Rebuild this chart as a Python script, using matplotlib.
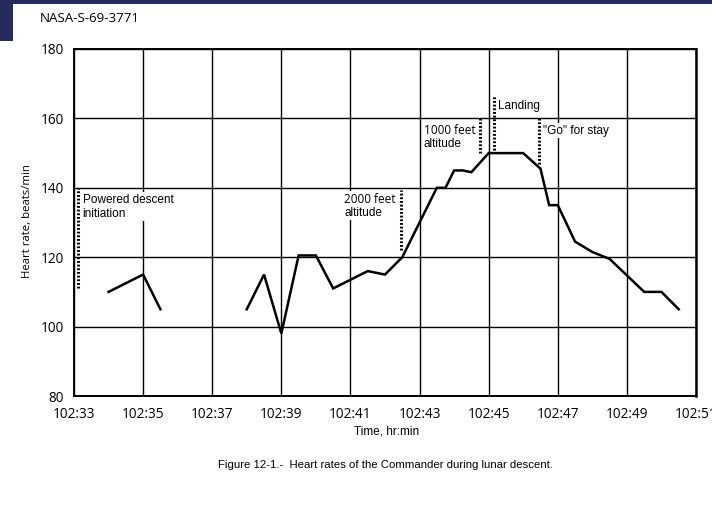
import numpy as np
import matplotlib
matplotlib.use("Agg")
import matplotlib.pyplot as plt
from matplotlib.patches import Rectangle

# ---- data (minutes past 102 h) ----
seg1_min = [34, 35, 35.5]
seg1_hr = [110, 115, 105]

seg2_min = [38, 38.5, 39, 39.5, 40, 40.5, 41.5, 42, 42.5, 43.5, 43.75, 44, 44.25,
            44.5, 45, 46, 46.5, 46.75, 47, 47.5, 48, 48.5, 49.5, 50, 50.5]
seg2_hr = [105, 115, 98, 120.5, 120.5, 111, 116, 115, 120, 140, 140, 145, 145,
           144.5, 150, 150, 145.5, 135, 135, 124.5, 121.5, 119.5, 110, 110, 105]

event_labels = ["Powered descent\ninitiation", "2000 feet", "1000 feet", "Landing", '"Go" for stay']
event_min = [33.12, 42.45, 44.76, 45.14, 46.47]
event_lo = [111, 122, 150, 151, 147]
event_hi = [140, 139.5, 160, 166.5, 160]

x_ticks = [33, 35, 37, 39, 41, 43, 45, 47, 49, 51]
x_ticklabels = ["102:%02d" % m for m in x_ticks]
y_ticks = [80, 100, 120, 140, 160, 180]

# ---- figure ----
W, H = 712, 507
fig = plt.figure(figsize=(W / 100, H / 100), dpi=100)
fig.patch.set_facecolor("white")

navy = "#262b5e"
fig.patches.append(Rectangle((0, 1 - 4 / H), 1, 4 / H, transform=fig.transFigure,
                             facecolor=navy, edgecolor="none", zorder=0))
fig.patches.append(Rectangle((0, 1 - 41 / H), 13 / W, 41 / H, transform=fig.transFigure,
                             facecolor=navy, edgecolor="none", zorder=0))

ax = fig.add_axes([74 / W, 1 - 396 / H, (696 - 74) / W, (396 - 49) / H])
ax.set_xlim(33, 51)
ax.set_ylim(80, 180)
ax.set_xticks(x_ticks)
ax.set_xticklabels(x_ticklabels)
ax.set_yticks(y_ticks)
ax.grid(True, color="black", linewidth=1.0)
ax.set_axisbelow(True)
ax.tick_params(length=0, labelsize=9.8, pad=7)
ax.tick_params(axis="x", pad=8)
for lab in ax.get_xticklabels() + ax.get_yticklabels():
    lab.set_fontfamily("Open Sans")
for s in ax.spines.values():
    s.set_linewidth(1.4)
ax.spines["right"].set_linewidth(1.8)

ax.plot(seg1_min, seg1_hr, color="black", linewidth=1.8, solid_joinstyle="miter", zorder=4)
ax.plot(seg2_min, seg2_hr, color="black", linewidth=1.8, solid_joinstyle="miter", zorder=4)

for xm, lo, hi in zip(event_min, event_lo, event_hi):
    ax.plot([xm, xm], [lo, hi], color="black", linewidth=2.2,
            linestyle=(0, (0.6, 0.6)), zorder=5)

narrow = "Liberation Sans"
box = dict(facecolor="white", edgecolor="none", pad=1.0)

ax.text(33.25, 138.3, event_labels[0], ha="left", va="top", fontsize=8.5,
        family=narrow, linespacing=1.25, bbox=box, zorder=3)
ax.text(40.82, 138.6, event_labels[1], ha="left", va="top", fontsize=8.5,
        family="Open Sans", bbox=box, zorder=3)
ax.text(40.82, 134.6, "altitude", ha="left", va="top", fontsize=8.5,
        family=narrow, bbox=box, zorder=3)
ax.text(43.12, 158.4, event_labels[2], ha="left", va="top", fontsize=8.5,
        family="Open Sans", bbox=box, zorder=3)
ax.text(43.12, 154.4, "altitude", ha="left", va="top", fontsize=8.5,
        family=narrow, bbox=box, zorder=3)
ax.text(45.26, 165.2, event_labels[3], ha="left", va="top", fontsize=8.5,
        family=narrow, bbox=box, zorder=3)
ax.text(46.56, 158.2, event_labels[4], ha="left", va="top", fontsize=8.5,
        family=narrow, bbox=box, zorder=3)

fig.text(40 / W, 1 - 18 / H, "NASA-S-69-3771", ha="left", va="center",
         fontsize=9.6, family="Open Sans")
fig.text(28 / W, 1 - 221 / H, "Heart rate, beats/min", rotation=90, ha="center",
         va="center", fontsize=8.2, family="Open Sans")
fig.text(387 / W, 1 - 432 / H, "Time, hr:min", ha="center", va="center",
         fontsize=8.5, family=narrow)
fig.text(385 / W, 1 - 465 / H,
         "Figure 12-1.-  Heart rates of the Commander during lunar descent.",
         ha="center", va="center", fontsize=8.2, family=narrow)

fig.savefig("out.png", dpi=100)
